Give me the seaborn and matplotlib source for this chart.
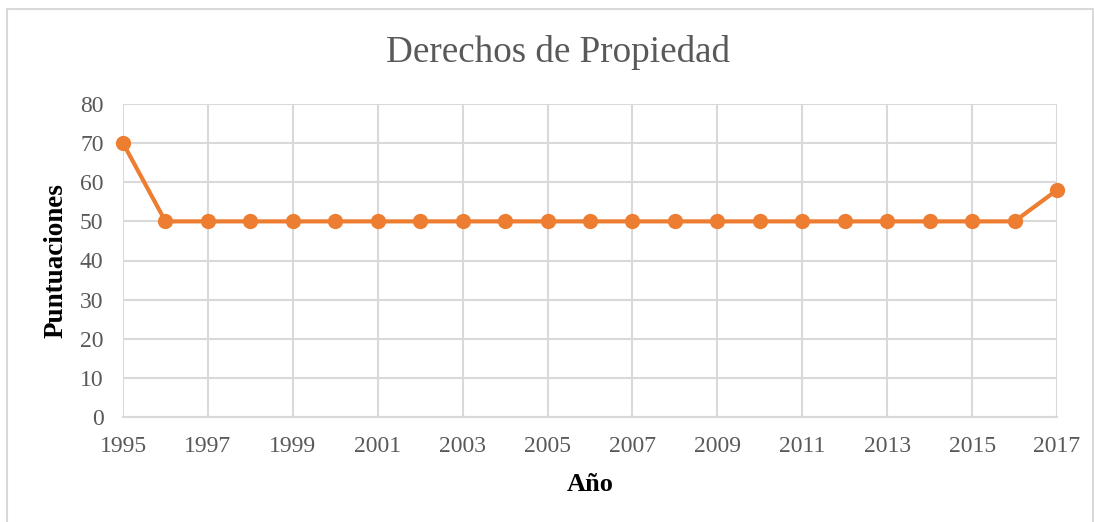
import matplotlib
matplotlib.use("Agg")
import matplotlib.pyplot as plt
import seaborn as sns
import pandas as pd
from matplotlib.patches import Rectangle

years = list(range(1995, 2018))
scores = [70] + [50] * 21 + [58]
tick_years = list(range(1995, 2018, 2))
y_ticks = [0, 10, 20, 30, 40, 50, 60, 70, 80]

title = "Derechos de Propiedad"
xlabel = "Año"
ylabel = "Puntuaciones"

orange = "#ED7D31"
grid_c = "#D9D9D9"
text_c = "#595959"

sns.set_theme(style="white")
plt.rcParams["font.family"] = ["Liberation Serif", "DejaVu Serif"]

df = pd.DataFrame({"year": years, "score": scores})

fig = plt.figure(figsize=(10.94, 5.22), dpi=100)
fig.patch.set_facecolor("white")
ax = fig.add_axes([123 / 1094, 1 - 417 / 522, (1057 - 123) / 1094, (417 - 104) / 522])

sns.lineplot(data=df, x="year", y="score", ax=ax, color=orange, linewidth=3,
             marker="o", markersize=11, markeredgewidth=0, zorder=3, clip_on=False)

ax.set_xlim(1995, 2017)
ax.set_ylim(0, 80)
ax.set_xticks(tick_years)
ax.set_xticklabels([str(t) for t in tick_years])
ax.set_yticks(y_ticks)
ax.grid(True, color=grid_c, linewidth=1.5, zorder=0)
ax.set_axisbelow(True)
for s in ax.spines.values():
    s.set_visible(False)
ax.spines["bottom"].set_visible(True)
ax.spines["bottom"].set_color(grid_c)
ax.spines["bottom"].set_linewidth(1.5)
ax.tick_params(axis="both", length=0, labelsize=17, labelcolor=text_c)
ax.tick_params(axis="x", pad=14)
ax.tick_params(axis="y", pad=14)

ax.set_xlabel(xlabel, fontsize=19, fontweight="bold", color="black", labelpad=11)
ax.set_ylabel(ylabel, fontsize=19.5, fontweight="bold", color="black", labelpad=8)
fig.text(557.5 / 1094, 1 - 53 / 522, title, ha="center", va="center", fontsize=26.7, color=text_c)

fig.patches.append(Rectangle((7 / 1094, -0.01), (1093 - 7) / 1094, 1 - 9 / 522 + 0.01,
                             transform=fig.transFigure, fill=False, edgecolor=grid_c,
                             linewidth=1.5, zorder=0))

fig.savefig("out.png", dpi=100)
